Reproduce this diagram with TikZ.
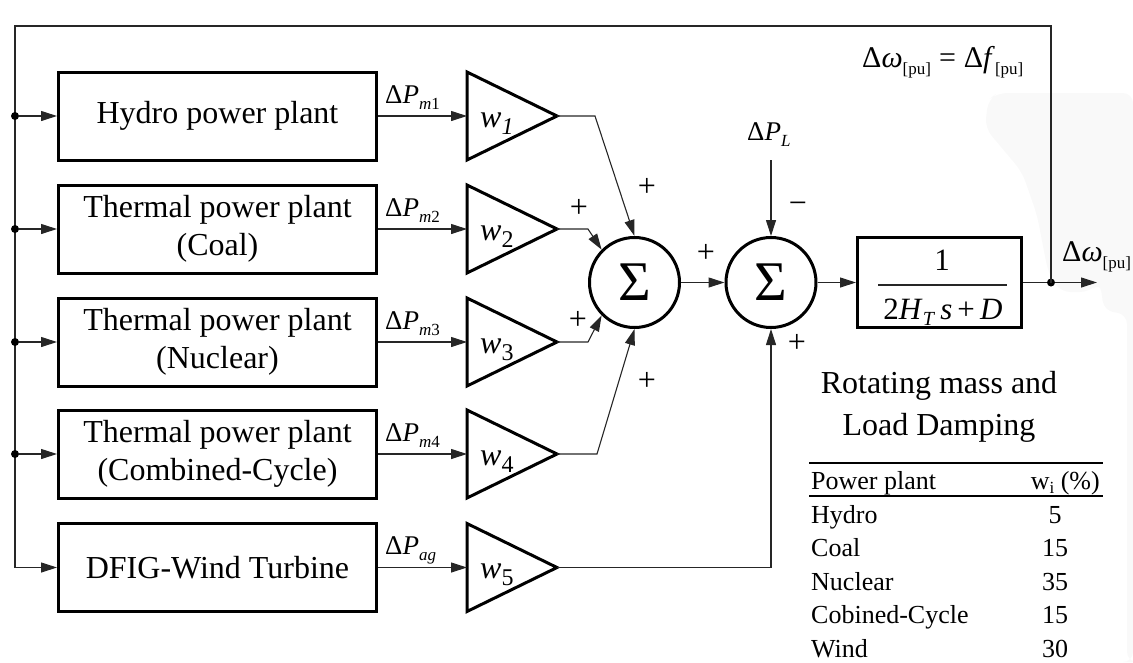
\documentclass[tikz,border=0pt]{standalone}
\usepackage{fontspec}
\setmainfont{Liberation Serif}
\usetikzlibrary{arrows.meta,calc}
\newcommand\fs[2]{\fontsize{#1}{#2}\selectfont}
\newcommand\dPlab[1]{{\fs{27}{30}Δ\textit{P}}\raisebox{-6pt}{\fs{17}{17}#1}}
\newcommand\wlab[1]{{\fs{32}{32}\textit{w}}\raisebox{-7pt}{\fs{24}{24}#1}}
\newcommand\dwlab{{\fs{30}{30}Δ\textit{ω}}\raisebox{-7pt}{\fs{17}{17}[pu]}}
\begin{document}
\begin{tikzpicture}[x=1pt,y=-1pt,
  blk/.style={draw, line width=3pt, minimum width=318pt, minimum height=88pt, align=center, inner sep=0pt, font=\fs{32}{38}},
  sumc/.style={draw, circle, line width=3pt, minimum size=90pt, inner sep=0pt, font=\fs{56}{56}},
  gain/.style={line width=3pt, line join=miter},
  ln/.style={line width=1.1pt, draw=black!85},
  arr/.style={ln, -{Triangle[length=16pt,width=10pt]}},
  dotn/.style={circle, fill, inner sep=0pt, minimum size=8pt},
  lbl/.style={inner sep=0pt},
  sign/.style={inner sep=0pt, font=\fs{32}{32}},
  tab/.style={inner sep=0pt, font=\fs{26}{26}}
]
\useasboundingbox (0,0) rectangle (1133,662);
% faint background shape
\fill[gray!5, rounded corners=10pt] (997,93) -- (1133,93) -- (1133,662) -- (1127,662) -- (1127,314) -- (1104,311) -- (1100,282) -- (1090,292) -- (1060,292) -- (1048,272) -- (1037,215) -- (1022,172) -- (985,128) -- (988,100) -- cycle;

% plant blocks
\node[blk] (hydro) at (217.5,116) {Hydro power plant};
\node[blk] (coal) at (217.5,229) {Thermal power plant\\(Coal)};
\node[blk] (nuc) at (217.5,342) {Thermal power plant\\(Nuclear)};
\node[blk] (cc) at (217.5,454) {Thermal power plant\\(Combined-Cycle)};
\node[blk] (dfig) at (217.5,567.5) {DFIG-Wind Turbine};

% gains
\foreach \i/\y in {1/116,2/229,3/342,4/454,5/567.5}{
  \draw[gain] (467,\y-44) -- (557,\y) -- (467,\y+44) -- cycle;
  \coordinate (gIn\i) at (467,\y);
  \coordinate (gOut\i) at (557,\y);
}
\node[lbl, anchor=base west] (w1) at (480,127) {\wlab{\textit{1}}};
\node[lbl, anchor=base west] (w2) at (480,240) {\wlab{2}};
\node[lbl, anchor=base west] (w3) at (480,353) {\wlab{3}};
\node[lbl, anchor=base west] (w4) at (480,465) {\wlab{4}};
\node[lbl, anchor=base west] (w5) at (480,578.5) {\wlab{5}};

% Delta P labels
\node[lbl, anchor=base west] (p1) at (385,103) {\dPlab{\textit{m}1}};
\node[lbl, anchor=base west] (p2) at (385,216) {\dPlab{\textit{m}2}};
\node[lbl, anchor=base west] (p3) at (385,329) {\dPlab{\textit{m}3}};
\node[lbl, anchor=base west] (p4) at (385,441) {\dPlab{\textit{m}4}};
\node[lbl, anchor=base west] (p5) at (385,554.5) {\dPlab{\textit{ag}}};

\draw[arr] (hydro.east) -- (gIn1);
\draw[arr] (coal.east) -- (gIn2);
\draw[arr] (nuc.east) -- (gIn3);
\draw[arr] (cc.east) -- (gIn4);
\draw[arr] (dfig.east) -- (gIn5);

% summing junctions
\node[sumc] (s1) at (634.5,282.5) {Σ};
\node[sumc] (s2) at (771,282.5) {Σ};

\coordinate (k1) at (595,116);
\coordinate (k2) at (588,229);
\coordinate (k3) at (588,342);
\coordinate (k4) at (597,454);
\draw[arr] (gOut1) -- (k1) -- (s1.north);
\draw[arr] (gOut2) -- (k2) -- (s1.135);
\draw[arr] (gOut3) -- (k3) -- (s1.225);
\draw[arr] (gOut4) -- (k4) -- (s1.south);
\draw[arr] (gOut5) -| (s2.south);
\draw[arr] (s1) -- (s2);

\node[sign] (pa) at (647,187) {+};
\node[sign] (pb) at (579,208) {+};
\node[sign] (pc) at (578,320) {+};
\node[sign] (pd) at (647,381) {+};
\node[sign] (pe) at (706,253) {+};
\node[sign] (mf) at (798,208) {−};
\node[sign] (pg) at (797,343) {+};

% load disturbance
\node[lbl, anchor=base west] (pl) at (747,140) {{\fs{27}{30}Δ\textit{P}}\raisebox{-6pt}{\fs{17}{17}\textit{L}}};
\coordinate (plb) at (771,160);
\draw[arr] (plb) -- (s2.north);

% transfer function block
\node[draw, line width=3pt, minimum width=164pt, minimum height=90pt, inner sep=0pt] (tf) at (939.5,282.5) {};
\draw[arr] (s2) -- (tf);
\node[lbl, font=\fs{31}{31}] (num) at (942,260) {1};
\coordinate (fl) at (878,285);
\coordinate (fr) at (1007,285);
\draw[ln] (fl) -- (fr);
\node[lbl, anchor=base, font=\fs{31}{31}] (den) at (943,319) {2\textit{H}\raisebox{-6pt}{\fs{20}{20}\textit{T}}\,\textit{s}\,+\,\textit{D}};

% output and feedback
\node[dotn] (od) at (1051,282.5) {};
\coordinate (oend) at (1097,282.5);
\draw[ln] (tf.east) -- (od);
\draw[arr] (od) -- (oend);
\node[lbl, anchor=base west] (ol) at (1062,261) {\dwlab};
\coordinate (tl) at (15,26);
\draw[arr] (od.center) |- (tl) |- (dfig.west);
\foreach \n/\y/\b in {1/116/hydro,2/229/coal,3/342/nuc,4/454/cc}{
  \node[dotn] (d\n) at (15,\y) {};
  \draw[arr] (d\n) -- (\b.west);
}
\node[lbl, anchor=base west] (eq) at (862,67) {\dwlab\hspace{8pt}{\fs{30}{30}=\hspace{8pt}Δ\textit{f}}\raisebox{-7pt}{\fs{17}{17}[pu]}};

% caption
\node[lbl, anchor=base, font=\fs{32}{32}] (cap1) at (939,393) {Rotating mass and};
\node[lbl, anchor=base, font=\fs{32}{32}] (cap2) at (939,435) {Load Damping};

% table
\draw[line width=2.5pt] (809,463) -- (1103,463);
\draw[line width=2pt] (809,496) -- (1103,496);
\node[tab, anchor=base west] (h1) at (811,489) {Power plant};
\node[tab, anchor=base east] (h2) at (1100,489) {w\raisebox{-4pt}{\fs{17}{17}i} (\%)};
\foreach \n/\v/\y in {Hydro/5/523,Coal/15/556.5,Nuclear/35/590,Cobined-Cycle/15/623.5,Wind/30/657}{
  \node[tab, anchor=base west] at (811,\y) {\n};
  \node[tab, anchor=base] at (1055,\y) {\v};
}
\end{tikzpicture}
\end{document}
